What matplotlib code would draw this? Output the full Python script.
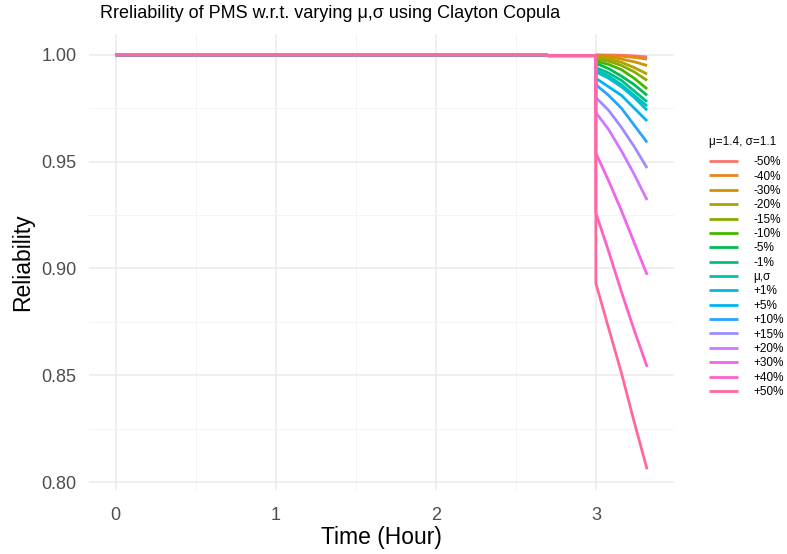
import numpy as np
import matplotlib
matplotlib.use("Agg")
import matplotlib.pyplot as plt

#==============================================
# DATA
#==============================================

labels=["-50%","-40%","-30%","-20%","-15%","-10%","-5%","-1%","μ,σ",
        "+1%","+5%","+10%","+15%","+20%","+30%","+40%","+50%"]

t_pre=[0,2.69,2.7,3.0]
r_pre=[1.0,1.0,0.9996,0.9996]
t_post=[3.0,3.08,3.16,3.24,3.32]

r_post={
    "-50%":[1.0,0.9999,0.9998,0.9995,0.999],
    "-40%":[0.9998,0.9996,0.9993,0.9988,0.998],
    "-30%":[0.9995,0.999,0.998,0.9967,0.995],
    "-20%":[0.999,0.998,0.9965,0.994,0.991],
    "-15%":[0.998,0.997,0.995,0.992,0.988],
    "-10%":[0.997,0.9955,0.993,0.989,0.984],
    "-5%":[0.996,0.9935,0.990,0.986,0.981],
    "-1%":[0.994,0.9915,0.988,0.983,0.978],
    "μ,σ":[0.993,0.990,0.986,0.981,0.976],
    "+1%":[0.992,0.989,0.985,0.980,0.974],
    "+5%":[0.989,0.985,0.981,0.975,0.969],
    "+10%":[0.986,0.981,0.975,0.967,0.959],
    "+15%":[0.980,0.974,0.966,0.957,0.947],
    "+20%":[0.973,0.965,0.955,0.944,0.932],
    "+30%":[0.954,0.941,0.927,0.912,0.897],
    "+40%":[0.926,0.908,0.889,0.871,0.854],
    "+50%":[0.893,0.872,0.851,0.828,0.806],
}

x_ticks=[0,1,2,3]
y_ticks=[0.80,0.85,0.90,0.95,1.00]

#==============================================
# ggplot hue palette (HCL -> sRGB)
#==============================================

def hcl_to_rgb(h,c=100,l=65):
    xn,yn,zn=95.047,100.0,108.883
    un=4*xn/(xn+15*yn+3*zn)
    vn=9*yn/(xn+15*yn+3*zn)
    u=c*np.cos(np.radians(h))
    v=c*np.sin(np.radians(h))
    y=yn*((l+16)/116)**3
    up=u/(13*l)+un
    vp=v/(13*l)+vn
    x=y*9*up/(4*vp)
    z=y*(12-3*up-20*vp)/(4*vp)
    x,y,z=x/100,y/100,z/100
    r=3.2404542*x-1.5371385*y-0.4985314*z
    g=-0.9692660*x+1.8760108*y+0.0415560*z
    b=0.0556434*x-0.2040259*y+1.0572252*z
    out=[]
    for ch in (r,g,b):
        ch=12.92*ch if ch<=0.0031308 else 1.055*ch**(1/2.4)-0.055
        out.append(min(max(ch,0),1))
    return tuple(out)

n=len(labels)
hues=np.linspace(15,375,n+1)[:n]
colors=[hcl_to_rgb(h) for h in hues]

#==============================================
# PLOT
#==============================================

plt.rcParams["font.family"]=["Liberation Sans","DejaVu Sans"]
fig=plt.figure(figsize=(7.87,5.54),dpi=100)
ax=fig.add_axes([0.113,0.1155,0.743,0.823])

for i,lab in enumerate(labels):
    t=t_pre+t_post
    r=r_pre+r_post[lab]
    ax.plot(t,r,color=colors[i],lw=2.0,label=lab,solid_capstyle="butt")

ax.set_xlim(-0.166,3.486)
ax.set_ylim(0.7963,1.0097)
ax.set_xticks(x_ticks)
ax.set_yticks(y_ticks)
ax.set_xticklabels([str(v) for v in x_ticks])
ax.set_yticklabels(["%.2f"%v for v in y_ticks])
ax.set_xticks([0.5,1.5,2.5],minor=True)
ax.set_yticks([0.825,0.875,0.925,0.975],minor=True)
ax.grid(True,which="major",color="#EBEBEB",lw=1.1)
ax.grid(True,which="minor",color="#F2F2F2",lw=0.6)
ax.set_axisbelow(True)
for s in ax.spines.values():
    s.set_visible(False)
ax.tick_params(which="both",length=0,labelsize=13,colors="#4D4D4D")
ax.tick_params(axis="x",pad=12)
ax.tick_params(axis="y",pad=9)

ax.set_xlabel("Time (Hour)",fontsize=16.5,labelpad=2)
ax.set_ylabel("Reliability",fontsize=16.5,labelpad=5)
fig.text(0.127,0.9765,"Rreliability of PMS w.r.t. varying μ,σ using Clayton Copula",
         fontsize=13,ha="left",va="center")

leg=ax.legend(loc="upper left",bbox_to_anchor=(1.042,0.80),frameon=False,
              title="μ=1.4, σ=1.1",fontsize=8.5,title_fontsize=8.5,
              handlelength=2.5,labelspacing=0.2,handletextpad=1.27,
              alignment="left")
leg._legend_box.sep=6
for line in leg.get_lines():
    line.set_linewidth(2.0)

fig.savefig("out.png",dpi=100)
